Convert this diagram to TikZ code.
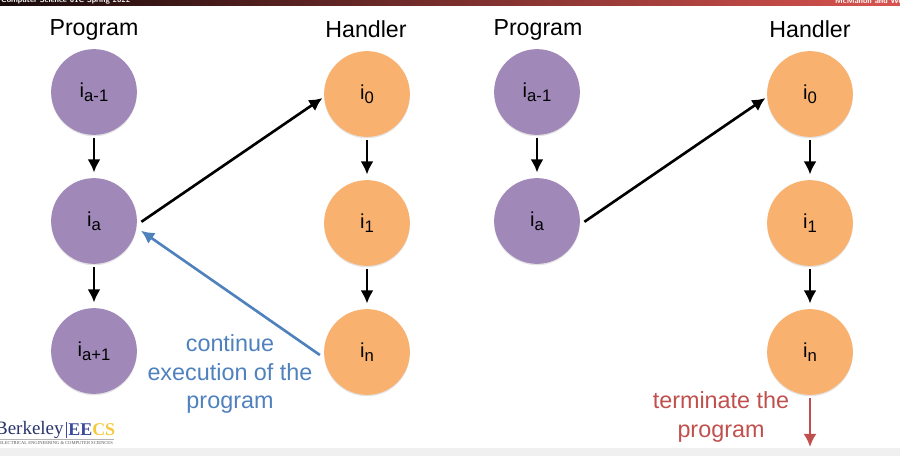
\documentclass[tikz,border=0pt]{standalone}
\usepackage{fontspec}
\setmainfont{Liberation Sans}
\newfontfamily\logofont{Liberation Serif}
\usetikzlibrary{arrows.meta,shadows}
\definecolor{progcol}{HTML}{A088B8}
\definecolor{handcol}{HTML}{F9B16F}
\definecolor{contcol}{HTML}{4F81BD}
\definecolor{termcol}{HTML}{C0504D}
\definecolor{barleft}{HTML}{180A0A}
\definecolor{barright}{HTML}{D9534F}
\definecolor{logoblue}{HTML}{3B4A9C}
\definecolor{logogold}{HTML}{F5C93A}
\newcommand{\isub}[1]{i\raisebox{-2.2pt}{\fontsize{9.5}{11}\selectfont #1}}
\begin{document}
\begin{tikzpicture}[x=0.02cm, y=-0.02cm,
    state/.style= {circle, minimum size=48.8pt, inner sep=0pt, font=\fontsize{11.5}{14}\selectfont,
        drop shadow={opacity=0.22, shadow xshift=0pt, shadow yshift=-0.8pt}},
    prog/.style= {state, fill=progcol},
    hand/.style= {state, fill=handcol},
    title/.style= {anchor=base, inner sep=0pt, font=\fontsize{13.2}{16}\selectfont},
    note/.style= {align=center, font=\fontsize{13.3}{16.1}\selectfont},
    flow/.style= {line width=1.5pt, -{Latex[length=7.5pt,width=7.5pt]}, shorten <=1.5pt, shorten >=3pt},
]
\useasboundingbox (0,0) rectangle (900,456);

\begin{scope}
\clip (0,0) rectangle (900,456);
\shade[left color=barleft, right color=barright] (0,0) rectangle (900,6);
\fill[black!6] (0,448) rectangle (900,456);
\node[anchor=west, text=white, font=\sffamily\bfseries\fontsize{4.5}{5}\selectfont] (course) at (-5,0.5) {Computer Science 61C Spring 2022};
\node[anchor=west, text=white, font=\sffamily\bfseries\fontsize{4.5}{5}\selectfont] (staff) at (829,0.5) {McMahon and Weaver};

\node[anchor=east, inner sep=0pt, text=logoblue!70!black, font=\logofont\fontsize{10.8}{13}\selectfont] (berk) at (64,430) {Berkeley};
\node[anchor=west, inner sep=0pt, font=\logofont\bfseries\fontsize{10.2}{12}\selectfont] (eecs) at (68,430) {\textcolor{logoblue}{EE}\textcolor{logogold}{CS}};
\node[anchor=west, inner sep=0pt, text=black!65, font=\logofont\fontsize{2.6}{3}\selectfont] (dept) at (-1,443) {ELECTRICAL ENGINEERING \& COMPUTER SCIENCES};
\draw[logoblue, line width=0.4pt] (66,422) -- (66,438);
\draw[black!30, line width=0.3pt] (0,439) -- (114,439);
\end{scope}

\node[title] (prog1) at (94,36) {Program};
\node[title] (hand1) at (366,38) {Handler};
\node[title] (prog2) at (538,36) {Program};
\node[title] (hand2) at (810,38) {Handler};

\node[prog] (ap) at (94,92) {\isub{a-1}};
\node[prog] (a) at (94,221) {\isub{a}};
\node[prog] (an) at (94,351) {\isub{a+1}};
\node[hand] (h0) at (367,94) {\isub{0}};
\node[hand] (h1) at (367,223) {\isub{1}};
\node[hand] (hn) at (367,352) {\isub{n}};

\node[prog] (bp) at (537,92) {\isub{a-1}};
\node[prog] (b) at (537,221) {\isub{a}};
\node[hand] (k0) at (810,94) {\isub{0}};
\node[hand] (k1) at (810,223) {\isub{1}};
\node[hand] (kn) at (810,352) {\isub{n}};

\draw[flow] (ap) -- (a);
\draw[flow] (a) -- (an);
\draw[flow] (h0) -- (h1);
\draw[flow] (h1) -- (hn);
\draw[flow] (bp) -- (b);
\draw[flow] (k0) -- (k1);
\draw[flow] (k1) -- (kn);

\draw[flow, shorten <=3pt, shorten >=1pt] (a.-5) -- (h0.184);
\draw[flow, shorten <=3pt, shorten >=1pt] (b.-5) -- (k0.184);
\draw[flow, contcol, shorten <=3pt] (hn.188) -- (a.-9);

\node[note, text=contcol] (cont) at (230,374) {continue\\execution of the\\program};
\node[note, text=termcol] (term) at (721,417) {terminate the\\program};

\coordinate (termend) at (810,447);
\draw[flow, termcol, line width=1.3pt, shorten >=0pt] (kn) -- (termend);
\end{tikzpicture}
\end{document}
